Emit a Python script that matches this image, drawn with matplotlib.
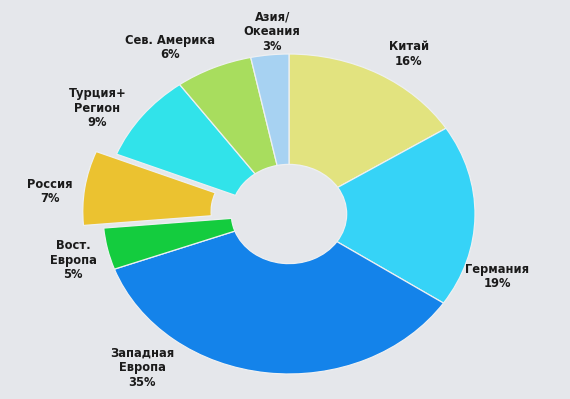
"""
donut chart: regional share (photo of a slide)
outputs: out.png
"""

import matplotlib.pyplot as plt

# -- DATA --
regions = [
    "Китай",
    "Германия",
    "Западная\nЕвропа",
    "Вост.\nЕвропа",
    "Россия",
    "Турция+\nРегион",
    "Сев. Америка",
    "Азия/\nОкеания",
]
# printed percentages
pct_labels = [16, 19, 35, 5, 7, 9, 6, 3]
# wedge sizes (slightly off the rounded labels)
wedge_sizes = [16, 18.4, 35, 4.2, 7.5, 8.9, 6.7, 3.3]
colors = [
    "#e2e37f",
    "#36d3f7",
    "#1483ea",
    "#14cc3e",
    "#ebc230",
    "#31e3ea",
    "#a8dd5e",
    "#a7d2f2",
]
explode = [0, 0, 0, 0, 0.11, 0, 0, 0]

# label anchors (layout only, in radius units)
label_pos = [
    (0.645, 1.00),
    (1.12, -0.39),
    (-0.79, -0.96),
    (-1.16, -0.29),
    (-1.285, 0.14),
    (-1.03, 0.66),
    (-0.64, 1.04),
    (-0.09, 1.14),
]

BG = "#e5e7eb"

# -- PLOT --
fig = plt.figure(figsize=(5.7, 3.99), dpi=100, facecolor=BG)
ax = fig.add_axes([0, 0, 1, 1])
ax.set_facecolor(BG)

ax.pie(
    wedge_sizes,
    colors=colors,
    explode=explode,
    startangle=90,
    counterclock=False,
    radius=1.0,
    wedgeprops=dict(width=0.69, edgecolor="#eef0f2", linewidth=0.9),
    frame=True,
)

for name, pct, (x, y) in zip(regions, pct_labels, label_pos):
    ax.text(
        x,
        y,
        f"{name}\n{pct}%",
        ha="center",
        va="center",
        fontsize=8.3,
        fontweight="bold",
        color="#1b1b1b",
        linespacing=1.15,
    )

# pie is slightly squashed in the photo -> free aspect
ax.set_aspect("auto")
ax.set_xlim(-289 / 186, (570 - 289) / 186)
ax.set_ylim((214 - 399) / 160, 214 / 160)
ax.axis("off")

plt.savefig("out.png", dpi=100, facecolor=BG)
plt.close()
